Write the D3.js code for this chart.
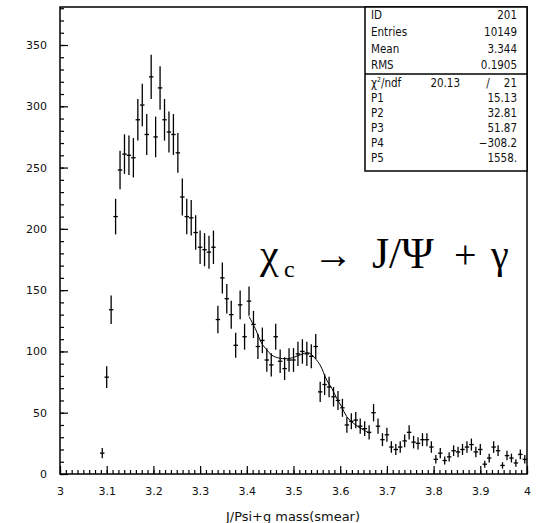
<!DOCTYPE html>
<html><head><meta charset="utf-8">
<script src="https://cdn.jsdelivr.net/npm/d3@7/dist/d3.min.js"></script>
<style>
body{margin:0;background:#fff}
.ann text{font-family:"Liberation Serif","DejaVu Serif","Times New Roman",Times,serif;}
</style>
</head><body>
<svg id="c" width="537" height="523"></svg>
<script>
// ---- data ----
const xMin = 3, xMax = 4, nBins = 105, firstBin = 9;
const counts = [
  17, 79, 134, 210, 248, 261, 260, 258, 289, 301, 277, 324, 275, 315, 289, 279, 277, 262, 226, 210, 209, 197, 185, 183, 181, 185,
  126, 160, 143, 130, 105, 138, 112, 141, 122, 104, 109, 93, 89, 112, 92, 86, 93, 93, 98, 100, 98, 96, 104, 67, 73, 71, 63, 60, 54, 40, 43, 44, 39, 37, 34,
  50, 39, 28, 32, 22, 20, 22, 27, 34, 26, 25, 28, 28, 22, 12, 17, 11, 14, 19, 18, 20, 22, 24, 18, 20, 8, 13, 22, 19, 7, 15, 13, 9, 16, 12
];
const fitX = [3.405, 3.418, 3.432, 3.443, 3.453, 3.471, 3.4925, 3.514, 3.532, 3.546, 3.557, 3.571, 3.582, 3.5925, 3.603, 3.614, 3.628, 3.650, 3.664];
const fitY = [128.3, 118.8, 106.6, 101.2, 97.1, 94.4, 94.4, 97.1, 99.0, 94.4, 88.9, 76.7, 69.9, 61.8, 54.9, 46.8, 41.4, 35.9, 33.2];
const xTickVals = [3, 3.1, 3.2, 3.3, 3.4, 3.5, 3.6, 3.7, 3.8, 3.9, 4];
const xTickLabels = ["3", "3.1", "3.2", "3.3", "3.4", "3.5", "3.6", "3.7", "3.8", "3.9", "4"];
const yTickVals = [0, 50, 100, 150, 200, 250, 300, 350];
const statLabels = ["ID", "Entries", "Mean", "RMS"];
const statValues = ["201", "10149", "3.344", "0.1905"];
const chi2 = ["20.13", "21"];
const parLabels = ["P1", "P2", "P3", "P4", "P5"];
const parValues = ["15.13", "32.81", "51.87", "\u2212308.2", "1558."];
const xTitle = "J/Psi+g mass(smear)";

// ---- layout ----
const L = 60, R = 527, T = 7, B = 474;
const svg = d3.select("#c");
const x = d3.scaleLinear().domain([xMin, xMax]).range([L, R]);
const y = d3.scaleLinear().domain([0, 381]).range([B, T]);
const bw = (xMax - xMin) / nBins;
const font = "DejaVu Sans, sans-serif";

// axes with inward ticks
const gx = svg.append("g").attr("transform", `translate(0,${B})`);
gx.call(d3.axisBottom(x).tickValues(d3.range(0, 81).map(i => xMin + i * 0.0125)).tickSize(-4).tickFormat(""));
const gx2 = svg.append("g").attr("transform", `translate(0,${B})`);
gx2.call(d3.axisBottom(x).tickValues(xTickVals).tickSize(-8).tickPadding(13).tickFormat((d, i) => xTickLabels[i]));
const gy = svg.append("g").attr("transform", `translate(${L},0)`);
gy.call(d3.axisLeft(y).tickValues(d3.range(0, 381, 10)).tickSize(-4).tickFormat(""));
const gy2 = svg.append("g").attr("transform", `translate(${L},0)`);
gy2.call(d3.axisLeft(y).tickValues(yTickVals).tickSize(-8).tickPadding(13).tickFormat(d3.format("d")));
svg.selectAll(".domain").remove();
svg.selectAll(".tick line").attr("stroke", "#000").attr("stroke-width", 1.2);
svg.selectAll(".tick text").attr("font-family", font).attr("font-size", 11).attr("fill", "#111");

// frame
svg.append("rect").attr("x", L).attr("y", T).attr("width", R - L).attr("height", B - T)
  .attr("fill", "none").attr("stroke", "#000").attr("stroke-width", 1.5);

// histogram error bars
const pts = counts.map((v, i) => ({ c: xMin + (firstBin + i + 0.5) * bw, v, e: Math.sqrt(v) }));
const gp = svg.append("g").attr("stroke", "#000").attr("stroke-width", 1.3);
gp.selectAll("line.v").data(pts).join("line").attr("class", "v")
  .attr("x1", d => x(d.c)).attr("x2", d => x(d.c))
  .attr("y1", d => y(d.v - d.e)).attr("y2", d => y(d.v + d.e));
gp.selectAll("line.h").data(pts).join("line").attr("class", "h")
  .attr("x1", d => x(d.c - bw / 2)).attr("x2", d => x(d.c + bw / 2))
  .attr("y1", d => y(d.v)).attr("y2", d => y(d.v));

// fit curve
const fitPts = fitX.map((xv, i) => [xv, fitY[i]]);
svg.append("path").datum(fitPts)
  .attr("d", d3.line().x(d => x(d[0])).y(d => y(d[1])).curve(d3.curveCatmullRom))
  .attr("fill", "none").attr("stroke", "#000").attr("stroke-width", 1);

// stats box
const SB = { l: 365, r: R, t: T, b: 171, sep: 74 };
svg.append("rect").attr("x", SB.l).attr("y", SB.t).attr("width", SB.r - SB.l).attr("height", SB.b - SB.t)
  .attr("fill", "#fff").attr("stroke", "#000").attr("stroke-width", 1.5);
svg.append("line").attr("x1", SB.l).attr("x2", SB.r).attr("y1", SB.sep).attr("y2", SB.sep)
  .attr("stroke", "#000").attr("stroke-width", 1.5);
const sFont = "DejaVu Sans Condensed, DejaVu Sans, sans-serif";
const st = svg.append("g").attr("font-family", sFont).attr("font-size", 11.5).attr("font-stretch", "condensed").attr("fill", "#111");
const topRows = [15, 31.5, 48.5, 64.5];
statLabels.forEach((t, i) => {
  st.append("text").attr("x", 371).attr("y", topRows[i] + 4).text(t);
  st.append("text").attr("x", 517).attr("y", topRows[i] + 4).attr("text-anchor", "end").text(statValues[i]);
});
const chiT = st.append("text").attr("x", 371).attr("y", 87);
chiT.append("tspan").text("\u03c7");
chiT.append("tspan").attr("font-size", 7).attr("dy", -5).text("2");
chiT.append("tspan").attr("dy", 5).text("/ndf");
st.append("text").attr("x", 460).attr("y", 87).attr("text-anchor", "end").text(chi2[0]);
st.append("text").attr("x", 488).attr("y", 87).attr("text-anchor", "middle").text("/");
st.append("text").attr("x", 517).attr("y", 87).attr("text-anchor", "end").text(chi2[1]);
parLabels.forEach((t, i) => {
  const yy = 98 + i * 15 + 4;
  st.append("text").attr("x", 371).attr("y", yy).text(t);
  st.append("text").attr("x", 517).attr("y", yy).attr("text-anchor", "end").text(parValues[i]);
});

// axis title
svg.append("text").attr("x", 226).attr("y", 521).attr("font-family", font).attr("font-size", 12)
  .attr("textLength", 134).attr("lengthAdjust", "spacingAndGlyphs").attr("fill", "#111").text(xTitle);

// annotation
const ann = svg.append("g").attr("class", "ann").attr("fill", "#000");
ann.append("text").attr("x", 260).attr("y", 268).attr("font-size", 42).text("\u03c7");
ann.append("text").attr("x", 284).attr("y", 277).attr("font-size", 24).text("c");
ann.append("text").attr("x", 313).attr("y", 268).attr("font-size", 40).text("\u2192");
ann.append("text").attr("x", 372).attr("y", 268).attr("font-size", 44).text("J/\u03a8");
ann.append("text").attr("x", 454).attr("y", 268).attr("font-size", 40).text("+");
ann.append("text").attr("x", 491).attr("y", 268).attr("font-size", 40).text("\u03b3");
</script>
</body></html>
